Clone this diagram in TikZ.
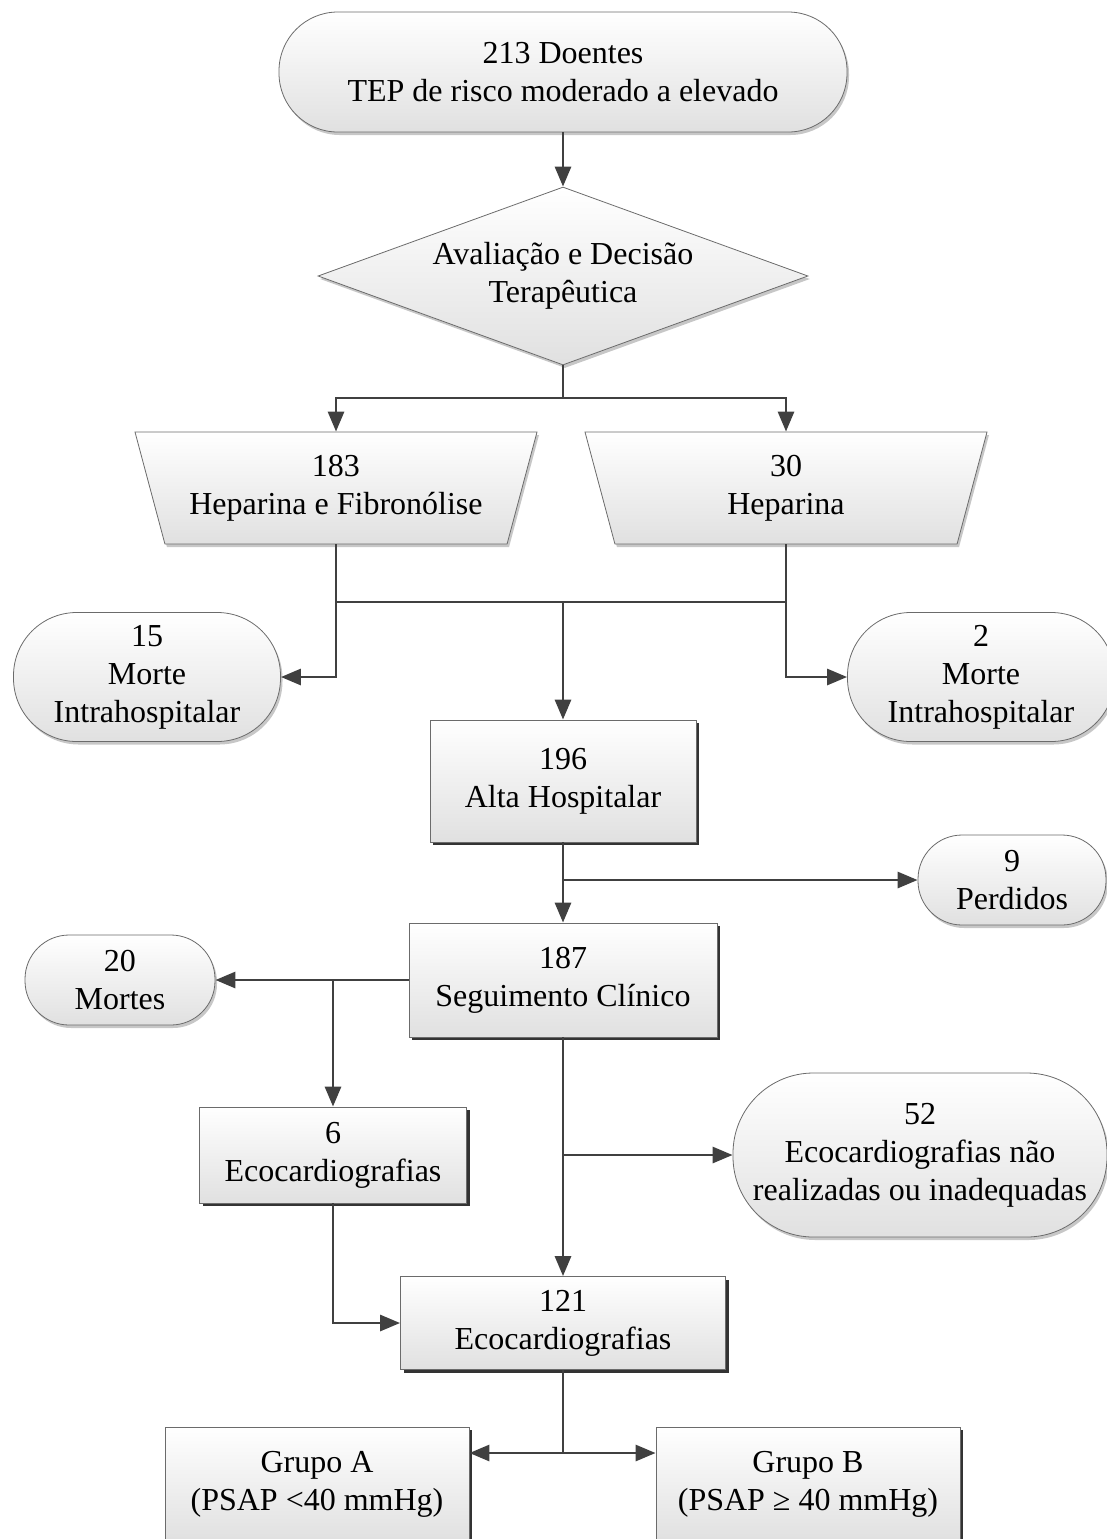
\documentclass[tikz,border=0pt]{standalone}
\usepackage{fontspec}
\setmainfont{Liberation Serif}
\usetikzlibrary{arrows.meta,positioning,shapes.geometric,shapes.misc,shadows}
\definecolor{linha}{rgb}{0.25,0.25,0.25}
\definecolor{borda}{rgb}{0.42,0.42,0.42}
\tikzset{
    base/.style={
    draw=borda,thin,top color=white,bottom color=black!12,align=center,inner sep=2pt,
    font=\fontsize{16}{19}\selectfont
    },
    term/.style 2 args={
    base,rectangle,minimum width=#1,minimum height=#2,rounded corners=0.49*#2,
    drop shadow={shadow xshift=1pt,shadow yshift=-1.5pt,fill=black!22,opacity=1}
    },
    proc/.style 2 args={
    base,rectangle,minimum width=#1,minimum height=#2,
    drop shadow={shadow xshift=1.5pt,shadow yshift=-1.5pt,fill=black!80,opacity=1}
    },
    decis/.style={
    base,diamond,aspect=2.75,inner sep=0pt,minimum width=245pt,minimum height=89pt,
    drop shadow={shadow xshift=1pt,shadow yshift=-1.5pt,fill=black!22,opacity=1}
    },
    trat/.style={
    base,trapezium,shape border rotate=180,trapezium angle=68,trapezium stretches body,
    minimum width=201pt,minimum height=56pt,
    drop shadow={shadow xshift=1pt,shadow yshift=-1.5pt,fill=black!22,opacity=1}
    },
  line/.style={draw=linha, line width=1.45pt, -{Triangle[length=10pt,width=8pt]}},
  link/.style={draw=linha, line width=1.45pt}
}
\begin{document}
\begin{tikzpicture}[x=0.5pt,y=-0.5pt]
    \useasboundingbox (0,0) rectangle (1107,1539);

    \node[term={284pt}{60pt}] (doen) at (563,72) {213 Doentes\\TEP de risco moderado a elevado};
    \node[decis] (aval) at (563,276) {Avaliação e Decisão\\Terapêutica};
    \node[trat] (fibr) at (336,488) {183\\Heparina e Fibronólise};
    \node[trat] (hepa) at (786,488) {30\\Heparina};
    \node[term={133.5pt}{64.5pt}] (morte1) at (147,677) {15\\Morte\\Intrahospitalar};
    \node[term={133.5pt}{64.5pt}] (morte2) at (981,677) {2\\Morte\\Intrahospitalar};
    \node[proc={133pt}{61pt}] (alta) at (563,781) {196\\Alta Hospitalar};
    \node[term={94pt}{45pt}] (perd) at (1012,880) {9\\Perdidos};
    \node[proc={154pt}{57pt}] (segui) at (563,980) {187\\Seguimento Clínico};
    \node[term={95pt}{45pt}] (mortes) at (120,980) {20\\Mortes};
    \node[proc={133.5pt}{48pt}] (eco6) at (333,1155) {6\\Ecocardiografias};
    \node[term={187pt}{82pt}] (naor) at (920,1155) {52\\Ecocardiografias não\\realizadas ou inadequadas};
    \node[proc={162.5pt}{46.5pt}] (eco121) at (563,1323) {121\\Ecocardiografias};
    \node[proc={152pt}{57pt}] (grupoA) at (317,1484) {Grupo A\\(PSAP <40 mmHg)};
    \node[proc={152pt}{57pt}] (grupoB) at (808,1484) {Grupo B\\(PSAP ≥ 40 mmHg)};

    \coordinate (divA) at (563,398);
    \coordinate (junA) at (563,602);
    \coordinate (junB) at (563,880);
    \coordinate (junC) at (333,980);
    \coordinate (junD) at (563,1155);
    \coordinate (divB) at (563,1453);

    \draw[link] (aval.south) -- (divA);
    \draw[link] (fibr.south) |- (junA) -| (hepa.south);
    \draw[link] (eco121.south) -- (divB);

    \begin{scope} [every path/.style=line]
      \path (doen) -- (aval);
      \path (divA) -| (fibr.north);
      \path (divA) -| (hepa.north);
      \path (junA) -- (alta);
      \path (fibr.south) |- (morte1.east);
      \path (hepa.south) |- (morte2.west);

      \path (alta) -- (segui);
      \path (junB) -- (perd.west);
      \path (segui.west) -- (mortes.east);
      \path (junC) -- (eco6);
      \path (segui) -- (eco121);
      \path (junD) -- (naor.west);
      \path (eco6.south) |- (eco121.west);

      \path (divB) -- (divB -| grupoA.east);
      \path (divB) -- (divB -| grupoB.west);
    \end{scope}
\end{tikzpicture}
\end{document}
